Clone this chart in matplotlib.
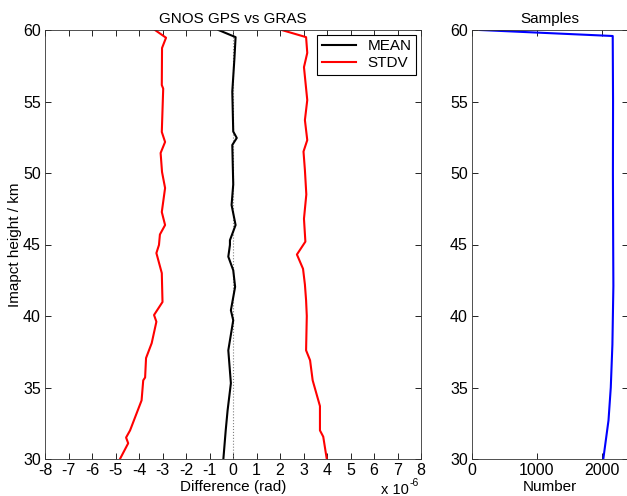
import numpy as np
import matplotlib
matplotlib.use("Agg")
import matplotlib.pyplot as plt

plt.rcParams['font.family'] = ['Liberation Sans', 'DejaVu Sans']
plt.rcParams['font.size'] = 11
plt.rcParams['axes.unicode_minus'] = False

# heights (km) and values (x 1e-6 rad)
h_mean = [60.0, 59.5, 58.0, 55.7, 52.9, 52.45, 51.96, 49.2, 47.76, 46.36, 45.3, 44.97,
          44.15, 43.2, 42.04, 40.4, 39.7, 37.6, 35.3, 33.4, 32.0, 30.0]
mean = [-0.62, 0.11, 0.06, -0.03, 0.01, 0.16, -0.03, 0.01, -0.06, 0.11, -0.13, -0.13,
        -0.2, 0.01, 0.09, -0.09, 0.01, -0.2, -0.09, -0.23, -0.31, -0.41]

h_lo = [60.0, 59.46, 58.74, 56.15, 55.9, 52.87, 52.17, 51.4, 50.07, 48.95, 47.27, 46.36,
        45.7, 44.97, 44.4, 43.0, 40.98, 40.07, 39.6, 38.1, 37.06, 35.7, 35.5, 34.1,
        33.2, 32.0, 31.5, 31.1, 30.0]
std_lo = [-3.32, -2.85, -3.02, -3.03, -2.97, -3.03, -2.89, -3.08, -3.02, -2.89, -3.03, -2.89,
          -3.11, -3.15, -3.26, -3.03, -3.0, -3.36, -3.26, -3.46, -3.7, -3.74, -3.82, -3.89,
          -4.1, -4.38, -4.55, -4.46, -4.81]

h_hi = [60.0, 59.5, 58.4, 57.4, 55.1, 53.7, 52.3, 51.5, 50.2, 48.5, 46.8, 45.2,
        44.3, 43.3, 42.2, 41.1, 40.0, 37.6, 36.9, 35.5, 33.7, 32.0, 31.56, 30.0]
std_hi = [2.07, 3.11, 3.16, 3.02, 3.16, 3.06, 3.16, 3.0, 3.06, 3.12, 3.02, 3.08,
          2.72, 2.98, 3.06, 3.11, 3.14, 3.11, 3.28, 3.39, 3.7, 3.7, 3.84, 3.99]

h_num = [60.0, 59.58, 55.0, 50.0, 45.0, 42.1, 38.0, 35.0, 32.7, 30.0]
number = [120, 2165, 2170, 2168, 2172, 2175, 2160, 2135, 2100, 2020]

fig = plt.figure(figsize=(6.27, 4.96), dpi=100)
ax1 = fig.add_axes([45/627, 1-459/496, 376/627, 429/496])
ax2 = fig.add_axes([472/627, 1-459/496, 156/627, 429/496])

ax1.axvline(0, color='gray', linestyle=':', linewidth=0.8)
ax1.plot(mean, h_mean, color='black', linewidth=1.5, label='MEAN')
ax1.plot(std_lo, h_lo, color='red', linewidth=1.5, label='STDV')
ax1.plot(std_hi, h_hi, color='red', linewidth=1.5)
ax1.set_xlim(-8, 8)
ax1.set_ylim(30, 60)
ax1.set_xticks(range(-8, 9))
ax1.set_yticks(range(30, 61, 5))
ax1.set_title("GNOS GPS vs GRAS", fontsize=11, pad=5)
ax1.set_xlabel("Difference (rad)", labelpad=1)
ax1.set_ylabel("Imapct height / km", labelpad=1)
fig.text(409/627, 1-494/496, "x 10", ha='right', va='baseline', fontsize=10.5)
fig.text(410/627, 1-486/496, "-6", ha='left', va='baseline', fontsize=7.5)
leg = ax1.legend(loc='upper right', fancybox=False, edgecolor='black', framealpha=1,
                 borderaxespad=0.3, handlelength=2.2, borderpad=0.3, labelspacing=0.2)
leg.get_frame().set_linewidth(0.8)

ax2.plot(number, h_num, color='blue', linewidth=1.5)
ax2.set_xlim(0, 2400)
ax2.set_ylim(30, 60)
ax2.set_xticks([0, 1000, 2000])
ax2.set_yticks(range(30, 61, 5))
ax2.set_title("Samples", fontsize=11, pad=5)
ax2.set_xlabel("Number", labelpad=1)

for ax in (ax1, ax2):
    ax.tick_params(direction='in', top=True, right=True, length=4, width=0.6, pad=3,
                   labelsize=11.5)
    for s in ax.spines.values():
        s.set_linewidth(0.6)
        s.set_color('#333333')

fig.savefig("out.png", dpi=100)
